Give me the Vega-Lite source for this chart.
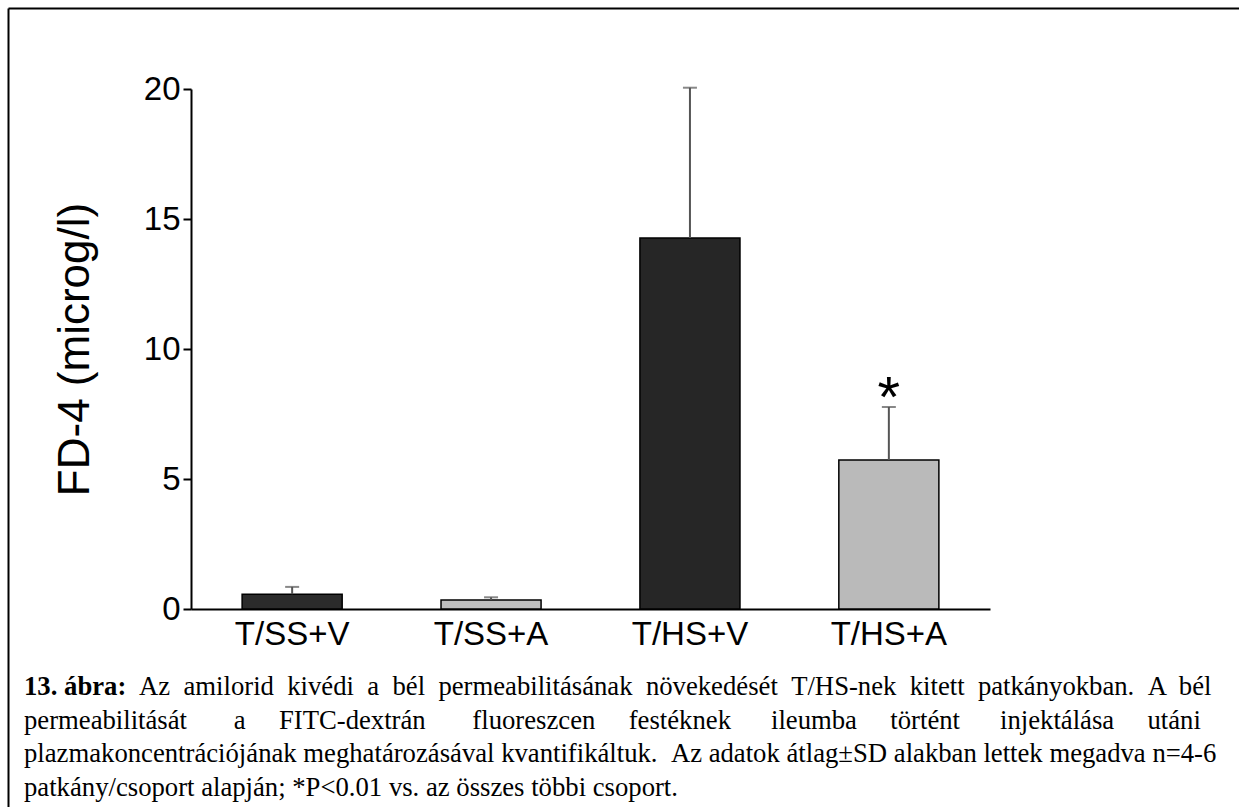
{
  "$schema": "https://vega.github.io/schema/vega-lite/v6.json",
  "autosize": "none",
  "padding": {"left": 8, "top": 8, "right": 0, "bottom": 0},
  "width": 1231,
  "height": 799,
  "background": "white",
  "config": {"view": {"stroke": null}, "font": "Liberation Sans"},
  "datasets": {
    "bars": [
      {"group": "T/SS+V", "mean": 0.57, "upper": 0.85, "sig": ""},
      {"group": "T/SS+A", "mean": 0.35, "upper": 0.45, "sig": ""},
      {"group": "T/HS+V", "mean": 14.27, "upper": 20.05, "sig": ""},
      {"group": "T/HS+A", "mean": 5.73, "upper": 7.77, "sig": "*"}
    ],
    "caption": [
      {"line": 1, "part": "bold", "text": "13. ábra:"},
      {"line": 1, "part": "lead", "text": "Az \u00a0amilorid \u00a0kivédi \u00a0a \u00a0bél \u00a0permeabilitásának \u00a0növekedését \u00a0T/HS-nek \u00a0kitett \u00a0patkányokban. \u00a0A \u00a0bél"},
      {"line": 2, "part": "body", "text": "permeabilitását \u00a0\u00a0\u00a0\u00a0\u00a0\u00a0a \u00a0\u00a0\u00a0\u00a0FITC-dextrán \u00a0\u00a0\u00a0\u00a0\u00a0\u00a0fluoreszcen \u00a0\u00a0\u00a0\u00a0festéknek \u00a0\u00a0\u00a0\u00a0\u00a0ileumba \u00a0\u00a0\u00a0\u00a0történt \u00a0\u00a0\u00a0\u00a0\u00a0injektálása \u00a0\u00a0\u00a0\u00a0utáni"},
      {"line": 3, "part": "body", "text": "plazmakoncentrációjának meghatározásával kvantifikáltuk. \u00a0Az adatok átlag±SD alakban lettek megadva n=4-6"},
      {"line": 4, "part": "body", "text": "patkány/csoport alapján; *P<0.01 vs. az összes többi csoport."}
    ],
    "frame": [{"fx": 0, "fy": 0}]
  },
  "layer": [
    {
      "data": {"name": "bars"},
      "encoding": {
        "x": {
          "field": "group", "type": "nominal", "sort": null, "title": null,
          "scale": {"range": [183, 982], "paddingInner": 0.497, "paddingOuter": 0.257},
          "axis": {"orient": "bottom", "offset": -198, "ticks": false, "domainColor": "black", "domainWidth": 2, "labelFontSize": 33, "labelColor": "black", "labelPadding": 9, "labelAngle": 0, "labelFont": "Liberation Sans"}
        }
      },
      "layer": [
        {
          "mark": {"type": "bar", "stroke": "black", "strokeWidth": 1.5},
          "encoding": {
            "y": {
              "field": "mean", "type": "quantitative", "title": "FD-4 (microg/l)",
              "scale": {"domain": [0, 20], "range": [601, 81], "nice": false},
              "axis": {"orient": "left", "values": [0, 5, 10, 15, 20], "offset": -183, "grid": false, "domainColor": "black", "domainWidth": 2, "tickColor": "black", "tickWidth": 2, "tickSize": 8, "labelFontSize": 33, "labelColor": "black", "labelPadding": 3, "labelFont": "Liberation Sans", "titleFont": "Liberation Sans", "titleFontSize": 44, "titleFontWeight": "normal", "titleColor": "black", "titlePadding": 46}
            },
            "color": {
              "field": "group", "type": "nominal", "legend": null,
              "scale": {"domain": ["T/SS+V", "T/SS+A", "T/HS+V", "T/HS+A"], "range": ["#2b2b2b", "#c0c0c0", "#262626", "#bababa"]}
            }
          }
        },
        {
          "mark": {"type": "rule", "color": "#555555", "strokeWidth": 2},
          "encoding": {
            "y": {"field": "mean", "type": "quantitative", "title": "FD-4 (microg/l)"},
            "y2": {"field": "upper"}
          }
        },
        {
          "mark": {"type": "tick", "color": "#555555", "thickness": 2, "size": 14},
          "encoding": {
            "y": {"field": "upper", "type": "quantitative", "title": "FD-4 (microg/l)"}
          }
        },
        {
          "mark": {"type": "text", "fontSize": 58, "dy": 10, "baseline": "alphabetic", "color": "black", "font": "Liberation Sans"},
          "encoding": {
            "y": {"field": "upper", "type": "quantitative", "title": "FD-4 (microg/l)"},
            "text": {"field": "sig"}
          }
        }
      ]
    },
    {
      "data": {"name": "caption"},
      "encoding": {
        "y": {"field": "line", "type": "ordinal", "scale": {"type": "point", "range": [687, 787.5], "padding": 0}, "axis": null},
        "text": {"field": "text"}
      },
      "layer": [
        {
          "transform": [{"filter": "datum.part == 'bold'"}],
          "mark": {"type": "text", "x": 16, "align": "left", "baseline": "alphabetic", "font": "Liberation Serif", "fontSize": 26.7, "fontWeight": "bold", "color": "black"}
        },
        {
          "transform": [{"filter": "datum.part == 'lead'"}],
          "mark": {"type": "text", "x": 16, "dx": 115, "align": "left", "baseline": "alphabetic", "font": "Liberation Serif", "fontSize": 26.7, "color": "black"}
        },
        {
          "transform": [{"filter": "datum.part == 'body'"}],
          "mark": {"type": "text", "x": 16, "align": "left", "baseline": "alphabetic", "font": "Liberation Serif", "fontSize": 26.7, "color": "black"}
        }
      ]
    },
    {
      "data": {"name": "frame"},
      "mark": {"type": "point", "opacity": 0},
      "encoding": {
        "x": {"field": "fx", "type": "quantitative", "scale": {"domain": [0, 1]}, "axis": {"orient": "top", "title": null, "ticks": false, "labels": false, "grid": false, "domainColor": "black", "domainWidth": 2}},
        "y": {"field": "fy", "type": "quantitative", "scale": {"domain": [0, 1]}, "axis": {"orient": "left", "title": null, "ticks": false, "labels": false, "grid": false, "domainColor": "black", "domainWidth": 2}}
      }
    }
  ],
  "resolve": {"scale": {"y": "independent", "x": "independent", "color": "independent"}}
}
